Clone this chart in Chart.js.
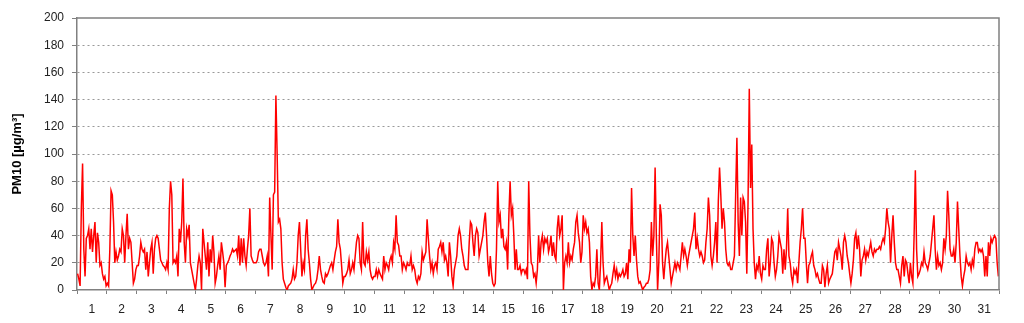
<!DOCTYPE html>
<html>
<head>
<meta charset="utf-8">
<script src="https://cdn.jsdelivr.net/npm/chart.js@4.4.1/dist/chart.umd.min.js"></script>
<style>
  html, body { margin: 0; padding: 0; background: #fff; }
  #wrap { width: 1024px; height: 323px; }
</style>
</head>
<body>
<div id="wrap"><canvas id="pmChart" width="1024" height="323"></canvas></div>
<script>
// Day labels under the x axis
const dayLabels = Array.from({ length: 31 }, (_, i) => String(i + 1));
const yTicks = [0, 20, 40, 60, 80, 100, 120, 140, 160, 180, 200];

// Hourly PM10 values, one line per day (24 values)
const pm10 = [
  12, 8, 3, 60, 93, 30, 10, 38, 40, 45, 30, 45, 28, 40, 50, 20, 42, 35, 18, 20, 12, 8, 10, 3,
  5, 3, 30, 73, 70, 50, 20, 28, 22, 25, 30, 28, 45, 40, 20, 40, 56, 30, 38, 35, 20, 5, 8, 15,
  18, 18, 25, 35, 30, 28, 30, 15, 28, 10, 20, 30, 35, 12, 30, 38, 40, 38, 30, 22, 20, 18, 17, 15,
  20, 15, 60, 80, 70, 20, 22, 20, 25, 10, 45, 35, 50, 82, 35, 20, 45, 40, 48, 20, 15, 10, 5, 0,
  8, 18, 25, 20, 0, 45, 35, 25, 15, 35, 10, 30, 20, 40, 28, 5, 10, 18, 25, 15, 35, 28, 20, 2,
  18, 20, 22, 25, 27, 30, 28, 29, 30, 25, 40, 18, 38, 20, 38, 25, 18, 30, 40, 60, 25, 22, 20, 20,
  20, 22, 28, 30, 30, 25, 20, 18, 20, 25, 10, 68, 40, 15, 70, 72, 143, 100, 50, 52, 45, 20, 8, 5,
  2, 0, 3, 4, 5, 8, 15, 8, 10, 20, 40, 50, 30, 10, 20, 15, 40, 52, 30, 20, 8, 0, 2, 4,
  5, 8, 15, 25, 15, 10, 6, 5, 12, 10, 12, 15, 18, 20, 15, 22, 28, 32, 52, 35, 30, 18, 5, 10,
  10, 12, 15, 22, 12, 15, 20, 15, 25, 35, 40, 38, 20, 15, 50, 20, 18, 28, 22, 28, 15, 10, 8, 10,
  10, 15, 10, 15, 12, 10, 8, 25, 15, 20, 18, 15, 22, 25, 20, 35, 30, 55, 35, 33, 25, 25, 15, 20,
  18, 15, 20, 18, 18, 25, 15, 18, 15, 8, 5, 10, 8, 12, 28, 22, 25, 28, 52, 38, 25, 15, 20, 12,
  18, 20, 15, 30, 32, 35, 28, 35, 22, 25, 20, 10, 35, 25, 10, 3, 15, 20, 25, 40, 45, 40, 30, 25,
  18, 15, 15, 15, 35, 50, 48, 35, 25, 40, 45, 42, 25, 30, 35, 40, 50, 57, 40, 20, 10, 25, 12, 5,
  3, 5, 30, 80, 50, 55, 38, 45, 32, 30, 35, 15, 55, 80, 55, 60, 40, 15, 30, 15, 15, 18, 12, 15,
  15, 12, 15, 8, 80, 40, 20, 18, 10, 12, 5, 15, 40, 20, 35, 40, 30, 38, 35, 38, 28, 32, 40, 25,
  35, 25, 22, 45, 55, 40, 45, 55, 0, 20, 25, 20, 35, 20, 25, 22, 30, 35, 50, 55, 42, 35, 20, 28,
  55, 45, 50, 42, 45, 35, 10, 0, 5, 3, 10, 30, 5, 0, 20, 50, 20, 5, 8, 10, 5, 0, 3, 5,
  12, 18, 10, 15, 8, 12, 10, 12, 15, 10, 12, 20, 8, 30, 20, 75, 40, 25, 40, 22, 10, 5, 6, 3,
  0, 2, 3, 5, 5, 8, 15, 50, 25, 40, 90, 40, 0, 20, 63, 55, 20, 8, 20, 30, 35, 25, 15, 5,
  10, 15, 20, 15, 20, 18, 15, 25, 35, 25, 30, 25, 18, 25, 30, 35, 40, 45, 57, 30, 38, 30, 25, 28,
  25, 20, 22, 35, 45, 68, 55, 25, 18, 25, 35, 50, 20, 65, 90, 70, 45, 60, 50, 30, 20, 18, 20, 15,
  15, 20, 25, 70, 112, 50, 25, 68, 40, 68, 65, 50, 12, 65, 148, 75, 107, 45, 20, 8, 18, 15, 25, 12,
  8, 18, 15, 15, 30, 38, 10, 20, 38, 35, 20, 10, 15, 25, 40, 35, 30, 12, 30, 15, 30, 60, 25, 20,
  10, 5, 15, 12, 15, 5, 20, 35, 45, 60, 38, 38, 20, 5, 18, 20, 25, 28, 18, 15, 10, 12, 8, 5,
  5, 18, 15, 2, 12, 18, 5, 8, 10, 12, 20, 28, 30, 22, 35, 30, 25, 15, 35, 40, 35, 25, 20, 12,
  5, 12, 22, 38, 42, 30, 40, 30, 10, 22, 25, 30, 22, 28, 25, 30, 35, 28, 25, 30, 28, 30, 30, 32,
  30, 35, 38, 35, 45, 60, 50, 45, 20, 40, 55, 35, 20, 15, 15, 10, 5, 18, 25, 10, 22, 20, 12, 5,
  20, 10, 5, 40, 88, 30, 10, 12, 15, 20, 18, 28, 20, 18, 15, 20, 25, 35, 45, 55, 30, 15, 25, 18,
  20, 15, 20, 38, 30, 40, 73, 55, 30, 25, 25, 30, 20, 35, 65, 45, 25, 10, 3, 10, 15, 25, 20, 18,
  20, 15, 22, 18, 30, 35, 35, 28, 30, 28, 30, 25, 10, 25, 10, 35, 25, 38, 35, 38, 40, 38, 20, 10
];

const hoursPerDay = 24;
const tickFont = { family: 'Liberation Sans, Arial, sans-serif', size: 12 };

// top and right border of the plot box
const frame = {
  id: 'frame',
  afterDraw(chart) {
    const { ctx, chartArea: a } = chart;
    ctx.save();
    ctx.strokeStyle = '#808080';
    ctx.lineWidth = 1.5;
    ctx.beginPath();
    ctx.moveTo(a.left, a.top);
    ctx.lineTo(a.right, a.top);
    ctx.lineTo(a.right, a.bottom);
    ctx.stroke();
    ctx.restore();
  }
};

new Chart(document.getElementById('pmChart'), {
  type: 'line',
  data: {
    datasets: [{
      label: 'PM10',
      data: pm10.map((v, i) => ({ x: i + 0.5, y: v })),
      borderColor: '#ff0000',
      borderWidth: 1.5,
      pointRadius: 0,
      tension: 0,
      fill: false
    }]
  },
  options: {
    responsive: false,
    animation: false,
    layout: { padding: { top: 18, right: 25, left: 0, bottom: 0 } },
    plugins: { legend: { display: false }, tooltip: { enabled: false } },
    scales: {
      x: {
        type: 'linear',
        min: 0,
        max: dayLabels.length * hoursPerDay,
        afterFit: s => { s.height = 33; },
        afterBuildTicks: s => {
          const t = [];
          for (let v = 0; v <= dayLabels.length * hoursPerDay; v += hoursPerDay / 2) t.push({ value: v });
          s.ticks = t;
        },
        grid: {
          drawOnChartArea: false,
          tickLength: 4,
          tickColor: c => (c.tick && c.tick.value % hoursPerDay === 0) ? '#808080' : 'rgba(0,0,0,0)',
          tickWidth: 1
        },
        border: { color: '#808080', width: 1.5 },
        ticks: {
          autoSkip: false,
          maxRotation: 0,
          padding: 8,
          color: '#222',
          font: tickFont,
          callback: v => (v % hoursPerDay === hoursPerDay / 2) ? dayLabels[Math.floor(v / hoursPerDay)] : ''
        }
      },
      y: {
        min: 0,
        max: 200,
        afterFit: s => { s.width = 77; },
        afterBuildTicks: s => { s.ticks = yTicks.map(v => ({ value: v })); },
        grid: {
          color: c => c.tick.value === 0 || c.tick.value === 200 ? 'rgba(0,0,0,0)' : '#999',
          lineWidth: 1,
          tickLength: 5,
          tickColor: '#808080'
        },
        border: { color: '#808080', width: 1.5, dash: [2, 3] },
        ticks: {
          padding: 8,
          color: '#222',
          font: tickFont
        },
        title: {
          display: true,
          text: 'PM10 [µg/m³]',
          color: '#000',
          font: { family: 'Liberation Sans, Arial, sans-serif', size: 13, weight: 'bold' },
          padding: { top: 10, bottom: 0 }
        }
      }
    }
  },
  plugins: [frame]
});
</script>
</body>
</html>
